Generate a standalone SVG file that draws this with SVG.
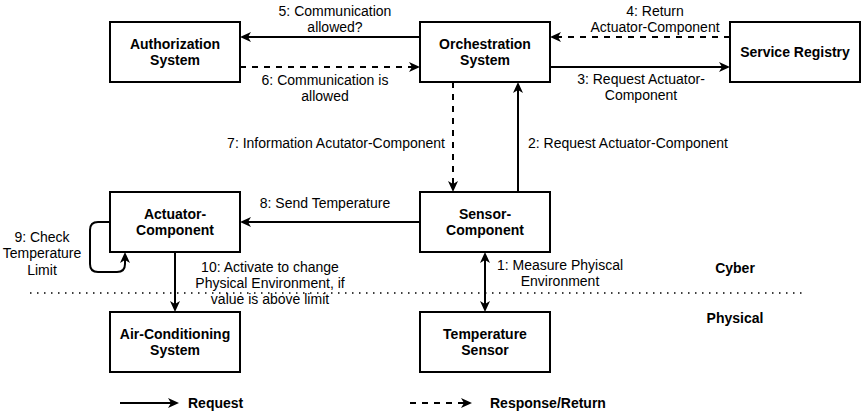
<svg xmlns="http://www.w3.org/2000/svg" width="861" height="413" viewBox="0 0 861 413">
<defs>
<style>
.node rect{fill:#fff;stroke:#000;stroke-width:2}
.node text{font-family:"Liberation Sans",Arial,Helvetica,sans-serif;font-size:14px;font-weight:bold;text-anchor:middle;fill:#000}
.edge{fill:none;stroke:#000;stroke-width:2}
.dash{stroke-dasharray:6 6}
.lbl{font-family:"Liberation Sans",Arial,Helvetica,sans-serif;font-size:14px;fill:#000;text-anchor:middle}
.bold{font-weight:bold}
</style>
<marker id="arr" markerUnits="userSpaceOnUse" markerWidth="11" markerHeight="10" viewBox="0 0 11 10" refX="8" refY="5" orient="auto-start-reverse">
<path d="M0,0 L11,5 L0,10 L3,5 Z" fill="#000"/>
</marker>
</defs>
<rect width="861" height="413" fill="#fff"/>

<g id="connectors">
<path class="edge" d="M420,37 L243,37" marker-end="url(#arr)"/>
<path class="edge dash" d="M240,67 L417,67" marker-end="url(#arr)"/>
<path class="edge dash" d="M730,37 L553,37" marker-end="url(#arr)"/>
<path class="edge" d="M550,67 L727,67" marker-end="url(#arr)"/>
<path class="edge dash" d="M453,82 L453,189" marker-end="url(#arr)"/>
<path class="edge" d="M518,192 L518,85" marker-end="url(#arr)"/>
<path class="edge" d="M420,222 L243,222" marker-end="url(#arr)"/>
<path class="edge" d="M110,222 L98,222 Q90,222 90,230 L90,264 Q90,272 98,272 L117,272 Q125,272 125,264 L125,255" marker-end="url(#arr)"/>
<path class="edge" d="M175,252 L175,309" marker-end="url(#arr)"/>
<path class="edge" d="M485,255 L485,309" marker-start="url(#arr)" marker-end="url(#arr)"/>
<path class="edge" d="M120,403 L176,403" marker-end="url(#arr)"/>
<path class="edge dash" d="M410,403 L469,403" marker-end="url(#arr)"/>

<text class="lbl"><tspan x="335" y="16">5: Communication</tspan><tspan x="335" y="32">allowed?</tspan></text>
<text class="lbl"><tspan x="325" y="85">6: Communication is</tspan><tspan x="325" y="101">allowed</tspan></text>
<text class="lbl"><tspan x="655" y="16">4: Return</tspan><tspan x="655" y="32">Actuator-Component</tspan></text>
<text class="lbl"><tspan x="641" y="84">3: Request Actuator-</tspan><tspan x="641" y="100">Component</tspan></text>
<text class="lbl" x="445" y="148" text-anchor="end" style="text-anchor:end">7: Information Acutator-Component</text>
<text class="lbl" x="528" y="148" style="text-anchor:start">2: Request Actuator-Component</text>
<text class="lbl" x="325" y="208">8: Send Temperature</text>
<text class="lbl"><tspan x="42" y="242">9: Check</tspan><tspan x="42" y="258">Temperature</tspan><tspan x="42" y="275">Limit</tspan></text>
<text class="lbl"><tspan x="270" y="272">10: Activate to change</tspan><tspan x="270" y="288">Physical Environment, if</tspan><tspan x="270" y="304">value is above limit</tspan></text>
<text class="lbl"><tspan x="560" y="270">1: Measure Phyiscal</tspan><tspan x="560" y="286">Environment</tspan></text>
</g>

<path d="M30,293 L803,293" fill="none" stroke="#000" stroke-width="1.5" stroke-dasharray="1.5 5.5"/>
<text class="lbl bold" x="735" y="273">Cyber</text>
<text class="lbl bold" x="735" y="323">Physical</text>
<text class="lbl bold" x="188" y="408" style="text-anchor:start">Request</text>
<text class="lbl bold" x="490" y="408" style="text-anchor:start">Response/Return</text>

<g id="authorization" class="node"><rect x="110" y="22" width="130" height="60"/><text><tspan x="175" y="49">Authorization</tspan><tspan x="175" y="65">System</tspan></text></g>
<g id="orchestration" class="node"><rect x="420" y="22" width="130" height="60"/><text><tspan x="485" y="49">Orchestration</tspan><tspan x="485" y="65">System</tspan></text></g>
<g id="service-registry" class="node"><rect x="730" y="22" width="130" height="60"/><text x="795" y="57">Service Registry</text></g>
<g id="actuator" class="node"><rect x="110" y="192" width="130" height="60"/><text><tspan x="175" y="219">Actuator-</tspan><tspan x="175" y="235">Component</tspan></text></g>
<g id="sensor" class="node"><rect x="420" y="192" width="130" height="60"/><text><tspan x="485" y="219">Sensor-</tspan><tspan x="485" y="235">Component</tspan></text></g>
<g id="air-conditioning" class="node"><rect x="110" y="312" width="130" height="60"/><text><tspan x="175" y="339">Air-Conditioning</tspan><tspan x="175" y="355">System</tspan></text></g>
<g id="temperature-sensor" class="node"><rect x="420" y="312" width="130" height="60"/><text><tspan x="485" y="339">Temperature</tspan><tspan x="485" y="355">Sensor</tspan></text></g>
</svg>
